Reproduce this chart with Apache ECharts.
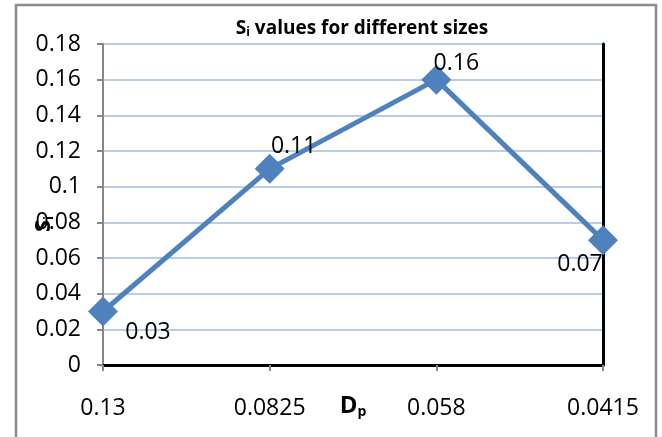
<!DOCTYPE html>
<html>
<head>
<meta charset="utf-8">
<script src="https://cdn.jsdelivr.net/npm/echarts@6/dist/echarts.min.js"></script>
<style>
  html, body { margin: 0; padding: 0; background: #fff; }
  #chart { width: 662px; height: 437px; }
</style>
</head>
<body>
<div id="chart"></div>
<script>
// Particle diameters (D_p) on the category axis and their S_i values
const sizes = ['0.13', '0.0825', '0.058', '0.0415'];
const siValues = [0.03, 0.11, 0.16, 0.07];
const yTicks = { min: 0, max: 0.18, interval: 0.02 };

// Where each value label sits relative to its marker
const labelOffsets = [[45, 21], [24, -22], [20, -16], [-23, 24]];

const FONT = 'Open Sans';
const BLUE = '#4f81bd';

const chart = echarts.init(document.getElementById('chart'), null, { renderer: 'canvas' });

const seriesData = siValues.map((v, i) => ({
  value: v,
  label: { offset: labelOffsets[i] }
}));

chart.setOption({
  animation: false,
  backgroundColor: '#fff',
  textStyle: { fontFamily: FONT },
  title: {
    text: '{s|S}{sub|i}{s| values for different sizes}',
    left: 357,
    top: 13,
    textAlign: 'center',
    textStyle: {
      rich: {
        s: { fontFamily: FONT, fontWeight: 'bold', fontSize: 19, color: '#000' },
        sub: { fontFamily: FONT, fontWeight: 'bold', fontSize: 12, color: '#000', padding: [9, 0, 0, 0] }
      }
    }
  },
  grid: { left: 103, right: 59, top: 44, bottom: 72, containLabel: false, outerBoundsMode: 'none' },
  xAxis: [{
    type: 'category',
    data: sizes,
    boundaryGap: false,
    position: 'bottom',
    axisLine: { lineStyle: { color: '#868686', width: 2 } },
    axisTick: { show: true, inside: false, length: 6, lineStyle: { color: '#868686', width: 2 } },
    axisLabel: { margin: 32, fontSize: 23, color: '#000', fontFamily: FONT },
    splitLine: { show: false },
    name: '{d|D}{p|p}',
    nameLocation: 'middle',
    nameGap: 28,
    nameMoveOverlap: false,
    nameTextStyle: {
      rich: {
        d: { fontFamily: FONT, fontWeight: 'bold', fontSize: 24, color: '#000' },
        p: { fontFamily: FONT, fontWeight: 'bold', fontSize: 14, color: '#000', padding: [12, 0, 0, 0] }
      }
    }
  }, {
    type: 'category',
    data: sizes,
    boundaryGap: false,
    position: 'top',
    axisLine: { lineStyle: { color: '#000', width: 3 } },
    axisTick: { show: false },
    axisLabel: { show: false }
  }],
  yAxis: [{
    type: 'value',
    min: yTicks.min,
    max: yTicks.max,
    interval: yTicks.interval,
    axisLine: { show: true, lineStyle: { color: '#868686', width: 2 } },
    axisTick: { show: true, inside: false, length: 6, lineStyle: { color: '#868686', width: 2 } },
    axisLabel: { margin: 22, fontSize: 23, color: '#000', fontFamily: FONT },
    splitLine: { show: true, lineStyle: { color: '#b9cde5', width: 2 } }
  }, {
    type: 'value',
    position: 'right',
    min: yTicks.min,
    max: yTicks.max,
    interval: yTicks.interval,
    axisLine: { show: true, lineStyle: { color: '#000', width: 3 } },
    axisTick: { show: false },
    axisLabel: { show: false },
    splitLine: { show: false }
  }],
  graphic: [{
    type: 'rect',
    silent: true,
    z: -1,
    shape: { x: 16, y: 5, width: 640, height: 440 },
    style: { fill: 'none', stroke: '#8c8c8c', lineWidth: 2.5 }
  }, {
    type: 'text',
    x: 44,
    y: 224,
    rotation: Math.PI / 2,
    style: {
      text: '{s|S}{sub|i}',
      align: 'center',
      verticalAlign: 'middle',
      rich: {
        s: { fontFamily: FONT, fontWeight: 'bold', fontSize: 22, fill: '#000' },
        sub: { fontFamily: FONT, fontWeight: 'bold', fontSize: 13, fill: '#000', padding: [10, 0, 0, 0] }
      }
    }
  }],
  series: [{
    type: 'line',
    data: seriesData,
    xAxisIndex: 0,
    yAxisIndex: 0,
    symbol: 'diamond',
    symbolSize: 30,
    lineStyle: { color: BLUE, width: 5 },
    itemStyle: { color: BLUE },
    label: {
      show: true,
      position: 'inside',
      fontSize: 23,
      color: '#000',
      fontFamily: FONT
    },
    z: 5
  }]
});
</script>
</body>
</html>
